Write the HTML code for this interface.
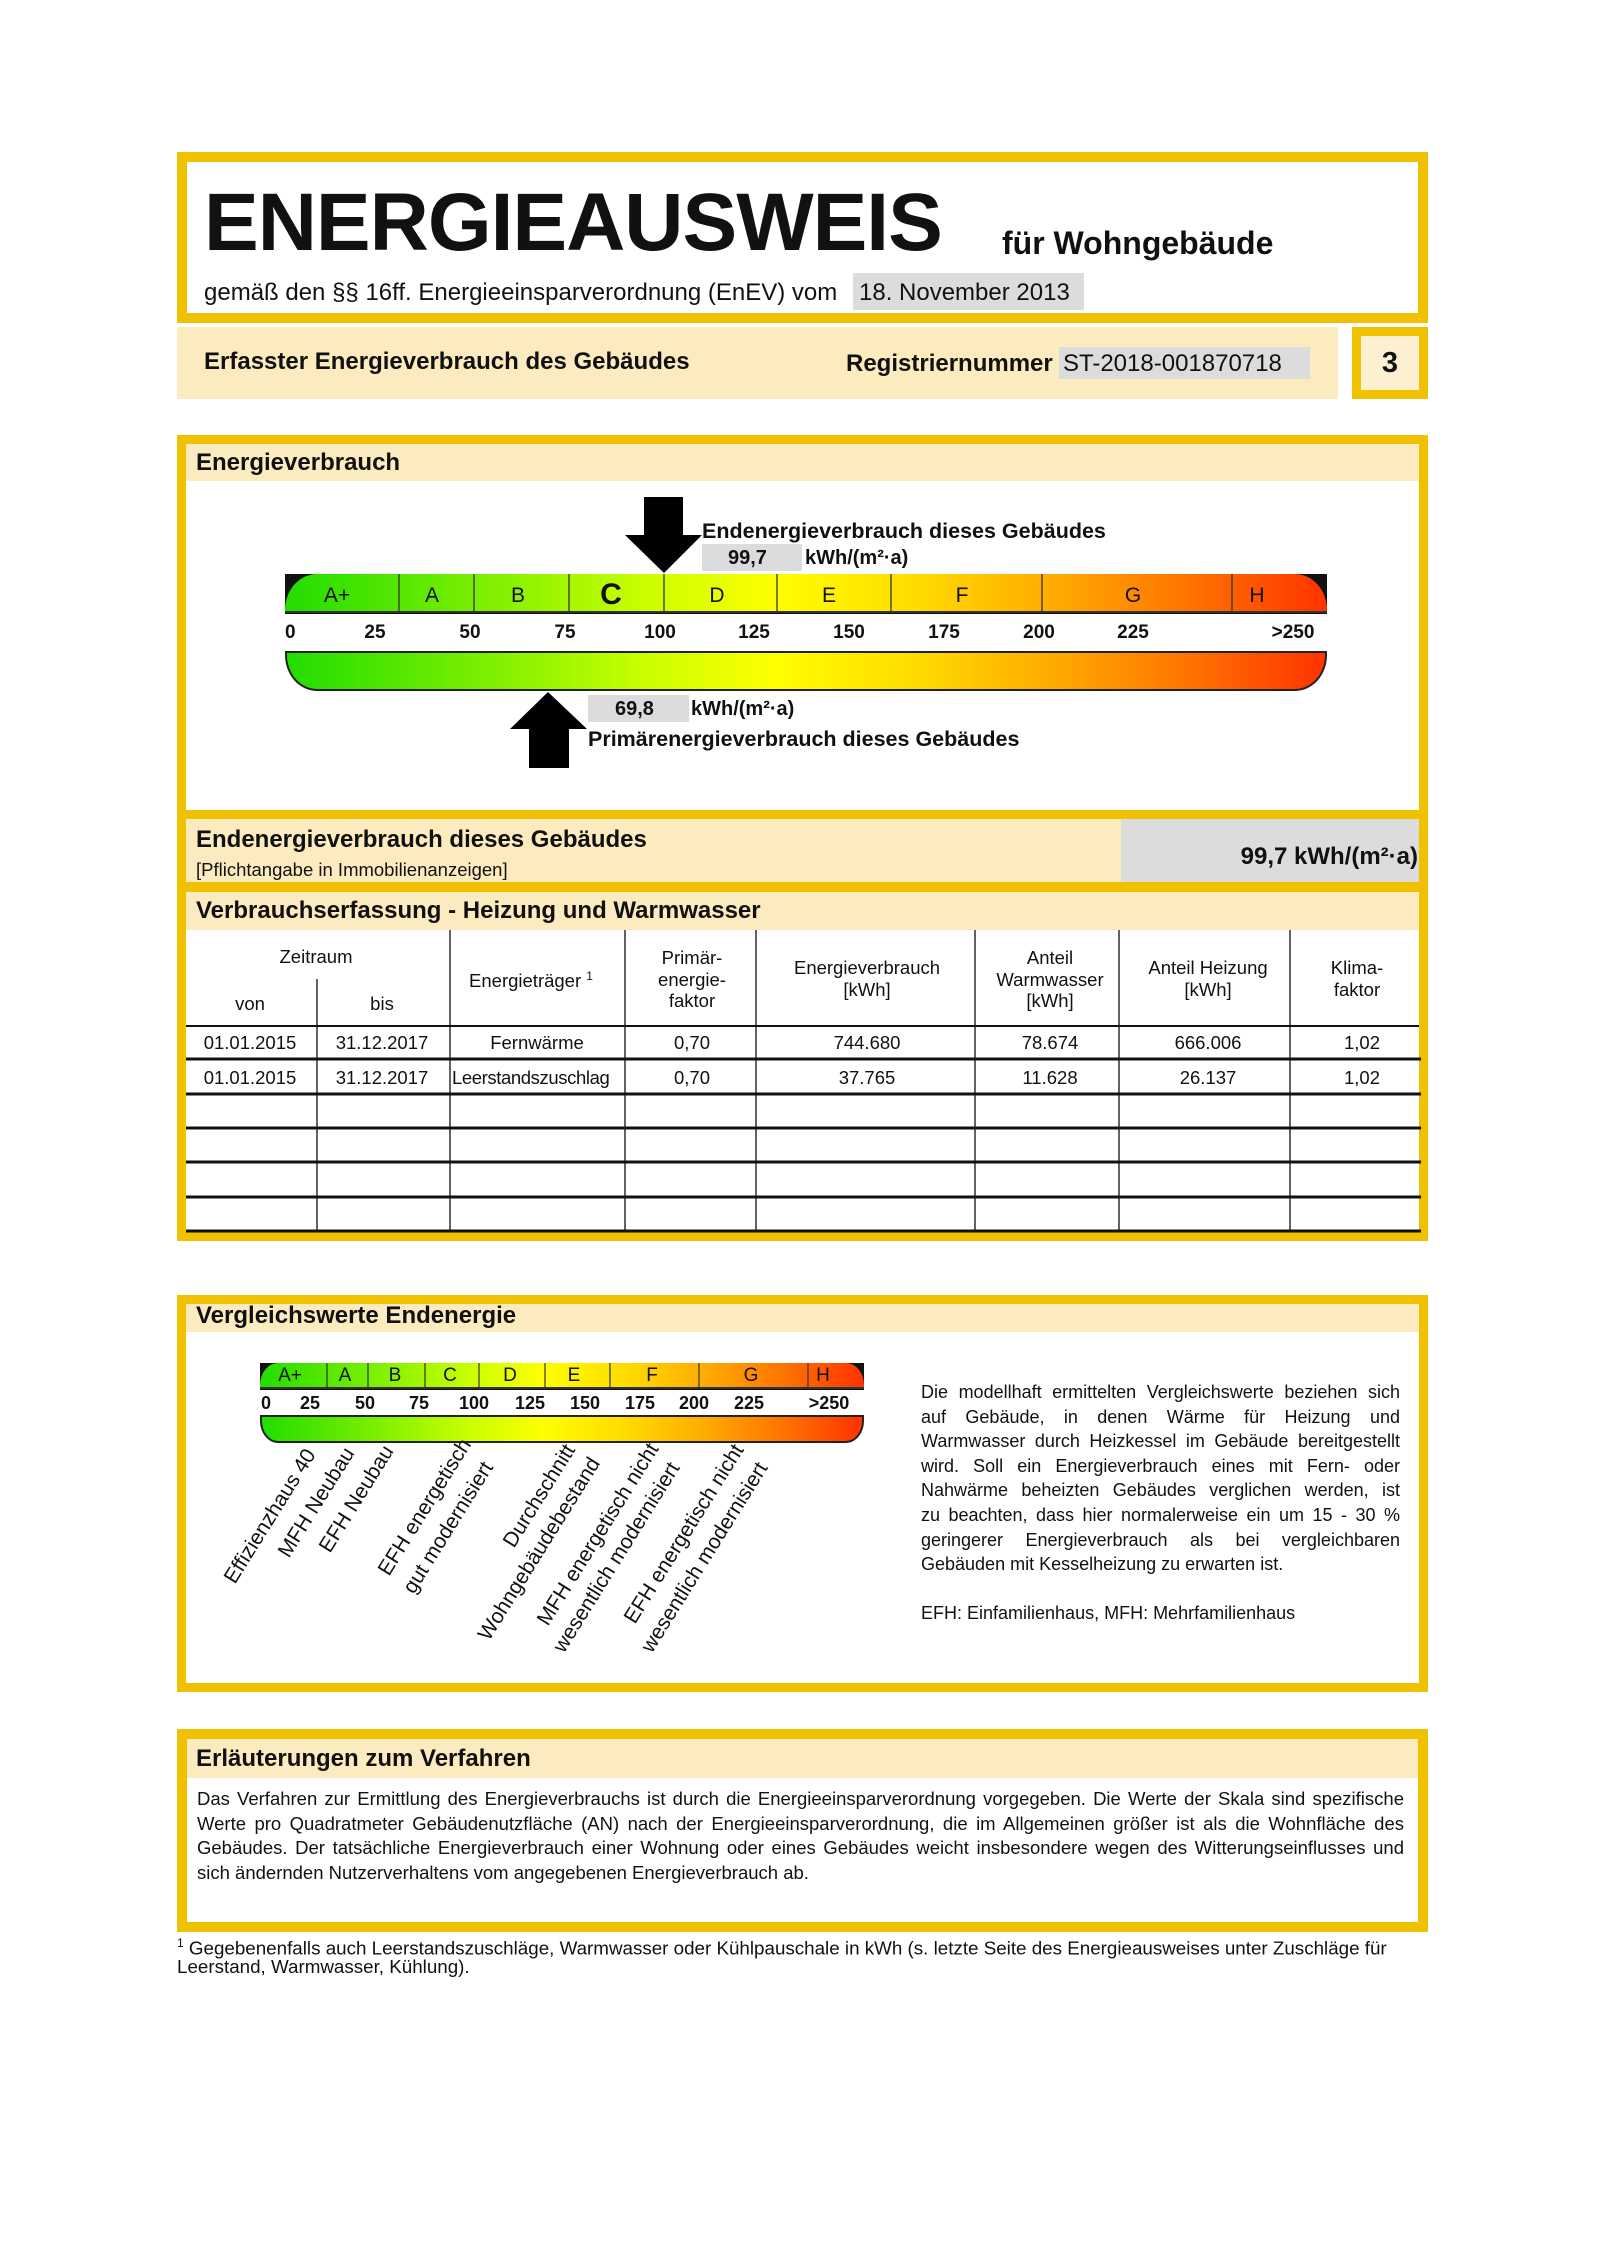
<!DOCTYPE html>
<html><head><meta charset="utf-8"><style>
*{margin:0;padding:0;box-sizing:border-box}
body{width:1600px;height:2264px;background:#fff;position:relative;font-family:"Liberation Sans",Arial,sans-serif;color:#111;overflow:hidden}
.a{position:absolute;white-space:nowrap}
.frame{position:absolute;border:10px solid #EFC100;background:#fff}
.beige{position:absolute;background:#FDEBC0}
.gray{position:absolute;background:#DCDCDC}
.b{font-weight:bold}
.c{transform:translateX(-50%);text-align:center}
.grad{background:linear-gradient(to right,#22dd00 0%,#77ee00 18%,#ccff00 35%,#ffff00 47%,#ffdd00 60%,#ffaa00 74%,#ff7700 86%,#ff3300 100%)}
.jl{position:absolute;text-align:justify;text-align-last:justify;white-space:nowrap}
.rot{position:absolute;transform-origin:0 100%;transform:rotate(-58deg);white-space:nowrap;font-size:21px;line-height:24px;height:24px}
</style></head><body>

<!-- Header frame -->
<div class="frame" style="left:177px;top:152px;width:1251px;height:171px"></div>
<div class="a b" style="left:204px;top:178px;font-size:82px;line-height:90px;letter-spacing:-1px">ENERGIEAUSWEIS</div>
<div class="a b" style="left:1002px;top:225px;font-size:32px;line-height:36px">für Wohngebäude</div>
<div class="a" style="left:204px;top:279px;font-size:24px;line-height:28px">gemäß den §§ 16ff. Energieeinsparverordnung (EnEV) vom</div>
<div class="gray" style="left:853px;top:273px;width:231px;height:37px"></div>
<div class="a" style="left:859px;top:279px;font-size:24px;line-height:28px">18. November 2013</div>

<div class="beige" style="left:177px;top:327px;width:1161px;height:72px"></div>
<div class="a b" style="left:204px;top:348px;font-size:24px;line-height:28px">Erfasster Energieverbrauch des Gebäudes</div>
<div class="a b" style="left:846px;top:350px;font-size:24px;line-height:28px">Registriernummer</div>
<div class="gray" style="left:1059px;top:347px;width:251px;height:32px"></div>
<div class="a" style="left:1063px;top:350px;font-size:24px;line-height:28px">ST-2018-001870718</div>
<div style="position:absolute;left:1352px;top:327px;width:76px;height:72px;border:9px solid #EFC100;background:#FDF0D2"></div>
<div class="a b c" style="left:1390px;top:346px;font-size:29px;line-height:34px">3</div>

<!-- Energieverbrauch frame -->
<div class="frame" style="left:177px;top:435px;width:1251px;height:806px;border-width:9px"></div>
<div class="beige" style="left:186px;top:444px;width:1233px;height:37px"></div>
<div class="a b" style="left:196px;top:449px;font-size:24px;line-height:28px">Energieverbrauch</div>

<!-- scale -->
<div style="position:absolute;left:285px;top:574px;width:1042px;height:40px;background:#111"></div>
<div class="grad" style="position:absolute;left:285px;top:574px;width:1042px;height:39px;border-radius:32px 32px 0 0/36px 36px 0 0;border-bottom:2px solid #333"></div>
<svg style="position:absolute;left:0;top:0" width="1600" height="800">
<g stroke="#333" stroke-width="1.3">
<line x1="399" y1="574" x2="399" y2="613"/><line x1="474" y1="574" x2="474" y2="613"/><line x1="569" y1="574" x2="569" y2="613"/><line x1="664" y1="574" x2="664" y2="613"/><line x1="777" y1="574" x2="777" y2="613"/><line x1="891" y1="574" x2="891" y2="613"/><line x1="1042" y1="574" x2="1042" y2="613"/><line x1="1232" y1="574" x2="1232" y2="613"/>
</g>
<polygon fill="#000" points="644,497 683,497 683,535 702,535 664,573 625,535 644,535"/>
<polygon fill="#000" points="548,692 587,729 569,729 569,768 529,768 529,729 510,729"/>
</svg>
<div class="a c" style="left:337px;top:584px;font-size:21px;line-height:24px">A+</div>
<div class="a c" style="left:432px;top:584px;font-size:21px;line-height:24px">A</div>
<div class="a c" style="left:518px;top:584px;font-size:21px;line-height:24px">B</div>
<div class="a c b" style="left:611px;top:578px;font-size:30px;line-height:34px">C</div>
<div class="a c" style="left:717px;top:584px;font-size:21px;line-height:24px">D</div>
<div class="a c" style="left:829px;top:584px;font-size:21px;line-height:24px">E</div>
<div class="a c" style="left:962px;top:584px;font-size:21px;line-height:24px">F</div>
<div class="a c" style="left:1133px;top:584px;font-size:21px;line-height:24px">G</div>
<div class="a c" style="left:1257px;top:584px;font-size:21px;line-height:24px">H</div>
<div class="a b" style="left:285px;top:622px;font-size:19px;line-height:22px">0</div>
<div class="a b c" style="left:375px;top:622px;font-size:19px;line-height:22px">25</div>
<div class="a b c" style="left:470px;top:622px;font-size:19px;line-height:22px">50</div>
<div class="a b c" style="left:565px;top:622px;font-size:19px;line-height:22px">75</div>
<div class="a b c" style="left:660px;top:622px;font-size:19px;line-height:22px">100</div>
<div class="a b c" style="left:754px;top:622px;font-size:19px;line-height:22px">125</div>
<div class="a b c" style="left:849px;top:622px;font-size:19px;line-height:22px">150</div>
<div class="a b c" style="left:944px;top:622px;font-size:19px;line-height:22px">175</div>
<div class="a b c" style="left:1039px;top:622px;font-size:19px;line-height:22px">200</div>
<div class="a b c" style="left:1133px;top:622px;font-size:19px;line-height:22px">225</div>
<div class="a b c" style="left:1293px;top:622px;font-size:19px;line-height:22px">&gt;250</div>
<div class="grad" style="position:absolute;left:285px;top:651px;width:1042px;height:40px;border:2px solid #222;border-radius:0 0 32px 32px/0 0 36px 36px"></div>

<div class="a b" style="left:702px;top:519px;font-size:21.5px;line-height:24px">Endenergieverbrauch dieses Gebäudes</div>
<div class="gray" style="left:702px;top:544px;width:100px;height:27px"></div>
<div class="a b" style="left:728px;top:546px;font-size:20px;line-height:24px">99,7</div>
<div class="a b" style="left:805px;top:546px;font-size:20px;line-height:24px">kWh/(m²·a)</div>
<div class="gray" style="left:588px;top:695px;width:101px;height:27px"></div>
<div class="a b" style="left:615px;top:697px;font-size:20px;line-height:24px">69,8</div>
<div class="a b" style="left:691px;top:697px;font-size:20px;line-height:24px">kWh/(m²·a)</div>
<div class="a b" style="left:588px;top:727px;font-size:21.5px;line-height:24px">Primärenergieverbrauch dieses Gebäudes</div>

<!-- Endenergie section -->
<div style="position:absolute;left:177px;top:810px;width:1251px;height:9px;background:#EFC100"></div>
<div class="beige" style="left:186px;top:819px;width:935px;height:63px"></div>
<div class="gray" style="left:1121px;top:819px;width:298px;height:63px"></div>
<div class="a b" style="left:196px;top:826px;font-size:24px;line-height:28px">Endenergieverbrauch dieses Gebäudes</div>
<div class="a" style="left:196px;top:859px;font-size:18.5px;line-height:21px">[Pflichtangabe in Immobilienanzeigen]</div>
<div class="a b" style="right:182px;top:843px;font-size:24px;line-height:28px">99,7 kWh/(m²·a)</div>
<div style="position:absolute;left:177px;top:882px;width:1251px;height:10px;background:#EFC100"></div>
<div class="beige" style="left:186px;top:892px;width:1233px;height:38px"></div>
<div class="a b" style="left:196px;top:897px;font-size:24px;line-height:28px">Verbrauchserfassung - Heizung und Warmwasser</div>

<!-- table -->
<svg style="position:absolute;left:0;top:0" width="1600" height="1300">
<g stroke="#111" stroke-width="1.3">
<line x1="317" y1="979" x2="317" y2="1231"/>
<line x1="450" y1="930" x2="450" y2="1231"/><line x1="625" y1="930" x2="625" y2="1231"/><line x1="756" y1="930" x2="756" y2="1231"/><line x1="975" y1="930" x2="975" y2="1231"/><line x1="1119" y1="930" x2="1119" y2="1231"/><line x1="1290" y1="930" x2="1290" y2="1231"/>
<line x1="186" y1="1026" x2="1419" y2="1026" stroke-width="2"/>
</g>
<g stroke="#111" stroke-width="3">
<line x1="186" y1="1059" x2="1421" y2="1059"/><line x1="186" y1="1094" x2="1421" y2="1094"/><line x1="186" y1="1128" x2="1421" y2="1128"/><line x1="186" y1="1162" x2="1421" y2="1162"/><line x1="186" y1="1197" x2="1421" y2="1197"/><line x1="186" y1="1231" x2="1421" y2="1231"/>
</g>
</svg>
<div style="font-size:18.5px;line-height:21px">
<div class="a c" style="left:316px;top:946px">Zeitraum</div>
<div class="a c" style="left:250px;top:993px">von</div>
<div class="a c" style="left:382px;top:993px">bis</div>
<div class="a c" style="left:531px;top:966px">Energieträger <sup style="font-size:12px">1</sup></div>
<div class="a c" style="left:692px;top:947px;line-height:21.5px">Primär-<br>energie-<br>faktor</div>
<div class="a c" style="left:867px;top:957px;line-height:22px">Energieverbrauch<br>[kWh]</div>
<div class="a c" style="left:1050px;top:947px;line-height:21.5px">Anteil<br>Warmwasser<br>[kWh]</div>
<div class="a c" style="left:1208px;top:957px;line-height:22px">Anteil Heizung<br>[kWh]</div>
<div class="a c" style="left:1357px;top:957px;line-height:22px">Klima-<br>faktor</div>
</div>
<div style="font-size:18.5px;line-height:22px">
<div class="a c" style="left:250px;top:1032px">01.01.2015</div>
<div class="a c" style="left:382px;top:1032px">31.12.2017</div>
<div class="a c" style="left:537px;top:1032px">Fernwärme</div>
<div class="a c" style="left:692px;top:1032px">0,70</div>
<div class="a c" style="left:867px;top:1032px">744.680</div>
<div class="a c" style="left:1050px;top:1032px">78.674</div>
<div class="a c" style="left:1208px;top:1032px">666.006</div>
<div class="a c" style="left:1362px;top:1032px">1,02</div>
<div class="a c" style="left:250px;top:1067px">01.01.2015</div>
<div class="a c" style="left:382px;top:1067px">31.12.2017</div>
<div class="a" style="left:452px;top:1067px;letter-spacing:-0.4px">Leerstandszuschlag</div>
<div class="a c" style="left:692px;top:1067px">0,70</div>
<div class="a c" style="left:867px;top:1067px">37.765</div>
<div class="a c" style="left:1050px;top:1067px">11.628</div>
<div class="a c" style="left:1208px;top:1067px">26.137</div>
<div class="a c" style="left:1362px;top:1067px">1,02</div>
</div>

<!-- Vergleichswerte -->
<div class="frame" style="left:177px;top:1295px;width:1251px;height:397px;border-width:9px"></div>
<div class="beige" style="left:186px;top:1304px;width:1233px;height:28px"></div>
<div class="a b" style="left:196px;top:1302px;font-size:24px;line-height:28px">Vergleichswerte Endenergie</div>

<div style="position:absolute;left:260px;top:1363px;width:604px;height:27px;background:#111"></div>
<div class="grad" style="position:absolute;left:260px;top:1363px;width:604px;height:26px;border-radius:18px 18px 0 0/22px 22px 0 0;border-bottom:2px solid #333"></div>
<svg style="position:absolute;left:0;top:1300px" width="1600" height="200">
<g stroke="#333" stroke-width="1.2">
<line x1="327" y1="63" x2="327" y2="89"/><line x1="368" y1="63" x2="368" y2="89"/><line x1="425" y1="63" x2="425" y2="89"/><line x1="479" y1="63" x2="479" y2="89"/><line x1="545" y1="63" x2="545" y2="89"/><line x1="610" y1="63" x2="610" y2="89"/><line x1="699" y1="63" x2="699" y2="89"/><line x1="808" y1="63" x2="808" y2="89"/>
</g></svg>
<div style="font-size:19px;line-height:22px">
<div class="a c" style="left:290px;top:1365px">A+</div>
<div class="a c" style="left:345px;top:1365px">A</div>
<div class="a c" style="left:395px;top:1365px">B</div>
<div class="a c" style="left:450px;top:1365px">C</div>
<div class="a c" style="left:510px;top:1365px">D</div>
<div class="a c" style="left:574px;top:1365px">E</div>
<div class="a c" style="left:652px;top:1365px">F</div>
<div class="a c" style="left:751px;top:1365px">G</div>
<div class="a c" style="left:823px;top:1365px">H</div>
</div>
<div class="b" style="font-size:18px;line-height:22px">
<div class="a c" style="left:266px;top:1392px">0</div>
<div class="a c" style="left:310px;top:1392px">25</div>
<div class="a c" style="left:365px;top:1392px">50</div>
<div class="a c" style="left:419px;top:1392px">75</div>
<div class="a c" style="left:474px;top:1392px">100</div>
<div class="a c" style="left:530px;top:1392px">125</div>
<div class="a c" style="left:585px;top:1392px">150</div>
<div class="a c" style="left:640px;top:1392px">175</div>
<div class="a c" style="left:694px;top:1392px">200</div>
<div class="a c" style="left:749px;top:1392px">225</div>
<div class="a c" style="left:829px;top:1392px">&gt;250</div>
</div>
<div class="grad" style="position:absolute;left:260px;top:1415px;width:604px;height:28px;border:2px solid #222;border-radius:0 0 18px 18px/0 0 22px 22px"></div>

<div class="rot" style="left:240px;top:1564px">Effizienzhaus 40</div>
<div class="rot" style="left:294px;top:1538px">MFH Neubau</div>
<div class="rot" style="left:335px;top:1533px">EFH Neubau</div>
<div class="rot" style="left:394px;top:1556px">EFH energetisch</div>
<div class="rot" style="left:419px;top:1574px">gut modernisiert</div>
<div class="rot" style="left:519px;top:1528px">Durchschnitt</div>
<div class="rot" style="left:494px;top:1621px">Wohngebäudebestand</div>
<div class="rot" style="left:553px;top:1606px">MFH energetisch nicht</div>
<div class="rot" style="left:569px;top:1633px">wesentlich modernisiert</div>
<div class="rot" style="left:640px;top:1604px">EFH energetisch nicht</div>
<div class="rot" style="left:657px;top:1633px">wesentlich modernisiert</div>

<div style="font-size:18px;line-height:24.6px">
<div class="jl" style="left:921px;top:1380px;width:479px">Die modellhaft ermittelten Vergleichswerte beziehen sich</div>
<div class="jl" style="left:921px;top:1404.6px;width:479px">auf Gebäude, in denen Wärme für Heizung und</div>
<div class="jl" style="left:921px;top:1429.2px;width:479px">Warmwasser durch Heizkessel im Gebäude bereitgestellt</div>
<div class="jl" style="left:921px;top:1453.8px;width:479px">wird. Soll ein Energieverbrauch eines mit Fern- oder</div>
<div class="jl" style="left:921px;top:1478.4px;width:479px">Nahwärme beheizten Gebäudes verglichen werden, ist</div>
<div class="jl" style="left:921px;top:1503px;width:479px">zu beachten, dass hier normalerweise ein um 15 - 30 %</div>
<div class="jl" style="left:921px;top:1527.6px;width:479px">geringerer Energieverbrauch als bei vergleichbaren</div>
<div class="a" style="left:921px;top:1552.2px">Gebäuden mit Kesselheizung zu erwarten ist.</div>
<div class="a" style="left:921px;top:1601px">EFH: Einfamilienhaus, MFH: Mehrfamilienhaus</div>
</div>

<!-- Erläuterungen -->
<div class="frame" style="left:177px;top:1729px;width:1251px;height:203px;border-width:10px"></div>
<div class="beige" style="left:187px;top:1739px;width:1231px;height:39px"></div>
<div class="a b" style="left:196px;top:1745px;font-size:24px;line-height:28px">Erläuterungen zum Verfahren</div>
<div style="font-size:18.5px;line-height:24.6px">
<div class="jl" style="left:197px;top:1787px;width:1207px">Das Verfahren zur Ermittlung des Energieverbrauchs ist durch die Energieeinsparverordnung vorgegeben. Die Werte der Skala sind spezifische</div>
<div class="jl" style="left:197px;top:1811.6px;width:1207px">Werte pro Quadratmeter Gebäudenutzfläche (AN) nach der Energieeinsparverordnung, die im Allgemeinen größer ist als die Wohnfläche des</div>
<div class="jl" style="left:197px;top:1836.2px;width:1207px">Gebäudes. Der tatsächliche Energieverbrauch einer Wohnung oder eines Gebäudes weicht insbesondere wegen des Witterungseinflusses und</div>
<div class="a" style="left:197px;top:1860.8px">sich ändernden Nutzerverhaltens vom angegebenen Energieverbrauch ab.</div>
</div>
<div style="font-size:18.8px;line-height:23px">
<div class="a" style="left:177px;top:1932px"><sup style="font-size:12px">1</sup> Gegebenenfalls auch Leerstandszuschläge, Warmwasser oder Kühlpauschale in kWh (s. letzte Seite des Energieausweises unter Zuschläge für</div>
<div class="a" style="left:177px;top:1955px">Leerstand, Warmwasser, Kühlung).</div>
</div>
</body></html>
